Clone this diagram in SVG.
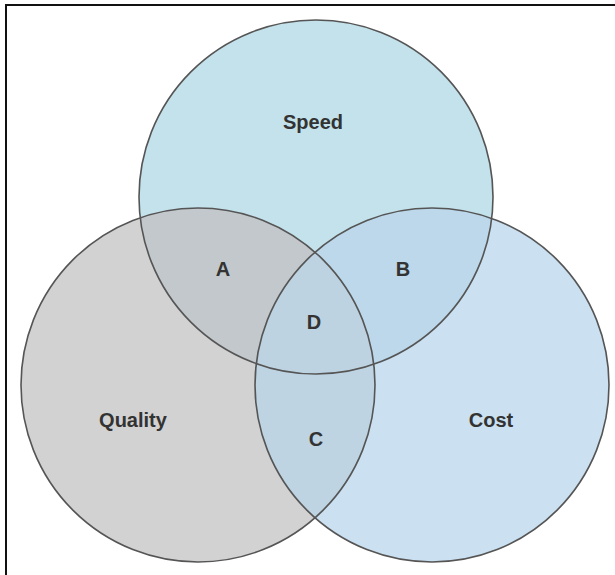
<svg xmlns="http://www.w3.org/2000/svg" width="615" height="575" viewBox="0 0 615 575">
  <style>
    .ring { fill: none; stroke: #555; stroke-width: 1.6; }
    .label { font-family: "Liberation Sans", Arial, sans-serif; font-weight: bold; font-size: 20px; fill: #333; text-anchor: middle; }
    .frame { fill: none; stroke: #111; stroke-width: 2; }
  </style>
  <defs>
    <circle id="c-speed" cx="316" cy="197" r="177"/>
    <circle id="c-quality" cx="198" cy="385" r="177"/>
    <circle id="c-cost" cx="432" cy="385" r="177"/>
    <clipPath id="clip-speed"><use href="#c-speed"/></clipPath>
    <clipPath id="clip-quality"><use href="#c-quality"/></clipPath>
    <clipPath id="clip-cost"><use href="#c-cost"/></clipPath>
  </defs>

  <rect width="615" height="575" fill="#fff"/>
  <path class="frame" d="M6,575 V5 H615"/>

  <!-- base circles -->
  <g id="quality">
    <use href="#c-quality" fill="#d2d2d2"/>
  </g>
  <g id="cost">
    <use href="#c-cost" fill="#cbe0f0"/>
  </g>
  <g id="speed">
    <use href="#c-speed" fill="#c4e2ec"/>
  </g>

  <!-- overlaps -->
  <g id="region-a">
    <use href="#c-speed" fill="#c2c8cb" clip-path="url(#clip-quality)"/>
  </g>
  <g id="region-b">
    <use href="#c-speed" fill="#bcd8ea" clip-path="url(#clip-cost)"/>
  </g>
  <g id="region-c">
    <use href="#c-quality" fill="#bed4e3" clip-path="url(#clip-cost)"/>
  </g>
  <g id="region-d" clip-path="url(#clip-cost)">
    <use href="#c-speed" fill="#bed3e1" clip-path="url(#clip-quality)"/>
  </g>

  <!-- outlines -->
  <g id="outlines">
    <use href="#c-speed" class="ring"/>
    <use href="#c-quality" class="ring"/>
    <use href="#c-cost" class="ring"/>
  </g>

  <!-- labels -->
  <g id="labels">
    <text class="label" x="313" y="129">Speed</text>
    <text class="label" x="133" y="427">Quality</text>
    <text class="label" x="491" y="427">Cost</text>
    <text class="label" x="223" y="276">A</text>
    <text class="label" x="403" y="276">B</text>
    <text class="label" x="314" y="329">D</text>
    <text class="label" x="316" y="446">C</text>
  </g>
</svg>
